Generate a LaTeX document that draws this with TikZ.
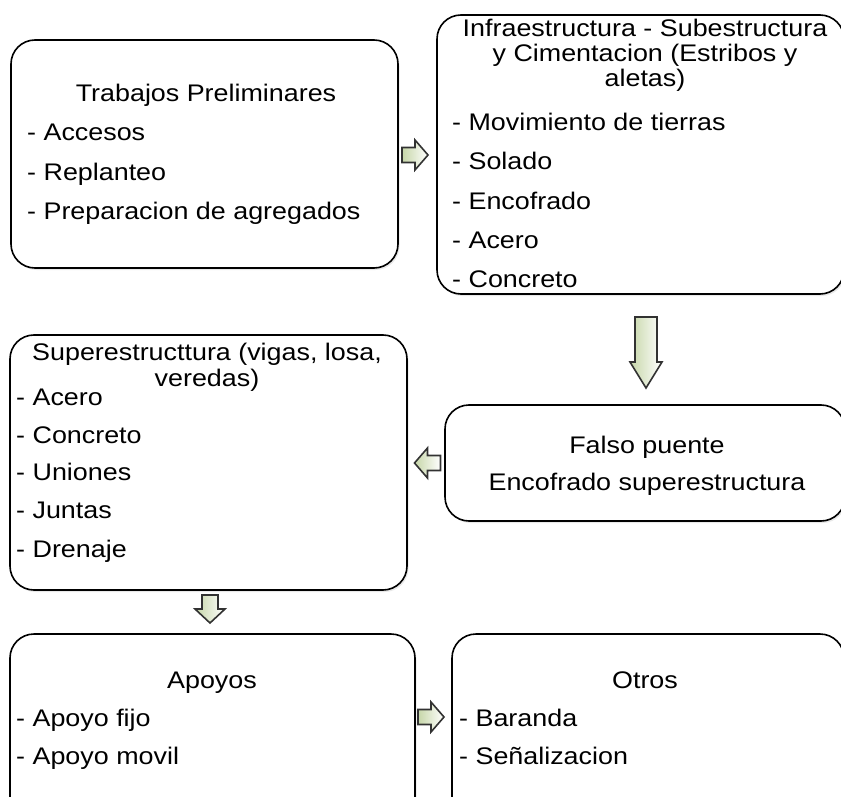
\documentclass[tikz,border=0pt]{standalone}
\usepackage{fontspec}
\setmainfont[FakeStretch=1.12]{Liberation Sans}
\usetikzlibrary{shadows}
\definecolor{arrowgreen}{RGB}{198,214,168}
\definecolor{arrowline}{RGB}{50,50,50}
\tikzset{
  stagebox/.style={draw=black, line width=1.6pt, rounded corners=24pt, fill=white,
    drop shadow={opacity=0.18, shadow xshift=1.5pt, shadow yshift=-2pt}, inner sep=0pt},
  txt/.style={font=\fontsize{24}{28}\selectfont, inner sep=0pt},
  item/.style={txt, anchor=base west},
  ttl/.style={txt, anchor=base},
  arrowstyle/.style={draw=arrowline, line width=1.6pt, line join=miter,
    left color=arrowgreen, right color=white},
  rarr/.pic={\path[arrowstyle] (-13,-7.5) -- (0,-7.5) -- (0,-15) -- (13,0) -- (0,15) -- (0,7.5) -- (-13,7.5) -- cycle;},
  larr/.pic={\path[arrowstyle] (13,-7.5) -- (0,-7.5) -- (0,-15) -- (-13,0) -- (0,15) -- (0,7.5) -- (13,7.5) -- cycle;},
  darr/.pic={\path[arrowstyle] (-8,-14) -- (8,-14) -- (8,0) -- (15,0) -- (0,14) -- (-15,0) -- (-8,0) -- cycle;},
  bigdarr/.pic={\path[arrowstyle] (-11,-35.5) -- (11,-35.5) -- (11,9.5) -- (16,9.5) -- (0,35.5) -- (-16,9.5) -- (-11,9.5) -- cycle;},
}
\begin{document}
\begin{tikzpicture}[x=1pt,y=-1pt]
\useasboundingbox (0,0) rectangle (841,797);
\clip (0,0) rectangle (841,797);

% boxes
\node[stagebox, minimum width=387pt, minimum height=228pt] (b1) at (204.5,154) {};
\node[stagebox, minimum width=407pt, minimum height=279pt] (b2) at (640.5,154.5) {};
\node[stagebox, minimum width=397pt, minimum height=255pt] (b3) at (208.5,462.5) {};
\node[stagebox, minimum width=400pt, minimum height=116pt] (b4) at (645,463) {};
\node[stagebox, minimum width=405pt, minimum height=200pt] (b5) at (212.5,734) {};
\node[stagebox, minimum width=392pt, minimum height=200pt] (b6) at (648,734) {};

% box 1
\node[ttl] (t1) at (206,102) {Trabajos Preliminares};
\node[item] (t1a) at (27,141) {- Accesos};
\node[item] (t1b) at (27,180) {- Replanteo};
\node[item] (t1c) at (27,219) {- Preparacion de agregados};

% box 2
\node[ttl] (t2) at (645,37) {Infraestructura - Subestructura};
\node[ttl] (t2l2) at (645,62) {y Cimentacion (Estribos y};
\node[ttl] (t2l3) at (645,87) {aletas)};
\node[item] (t2a) at (452,131) {- Movimiento de tierras};
\node[item] (t2b) at (452,170) {- Solado};
\node[item] (t2c) at (452,209) {- Encofrado};
\node[item] (t2d) at (452,248) {- Acero};
\node[item] (t2e) at (452,287) {- Concreto};

% box 3
\node[ttl] (t3) at (207,360) {Superestructtura (vigas, losa,};
\node[ttl] (t3l2) at (207,386) {veredas)};
\node[item] (t3a) at (16,405) {- Acero};
\node[item] (t3b) at (16,443) {- Concreto};
\node[item] (t3c) at (16,480) {- Uniones};
\node[item] (t3d) at (16,518) {- Juntas};
\node[item] (t3e) at (16,557) {- Drenaje};

% box 4
\node[ttl] (t4) at (647,453) {Falso puente};
\node[ttl] (t4l2) at (647,490) {Encofrado superestructura};

% box 5
\node[ttl] (t5) at (212,688) {Apoyos};
\node[item] (t5a) at (16,726) {- Apoyo fijo};
\node[item] (t5b) at (16,764) {- Apoyo movil};

% box 6
\node[ttl] (t6) at (645,688) {Otros};
\node[item] (t6a) at (459,726) {- Baranda};
\node[item] (t6b) at (459,764) {- Señalizacion};

% block arrows
\pic at (415,155) {rarr};
\pic at (646,352.5) {bigdarr};
\pic at (427.5,463) {larr};
\pic at (210,609) {darr};
\pic at (431,717) {rarr};
\end{tikzpicture}
\end{document}
